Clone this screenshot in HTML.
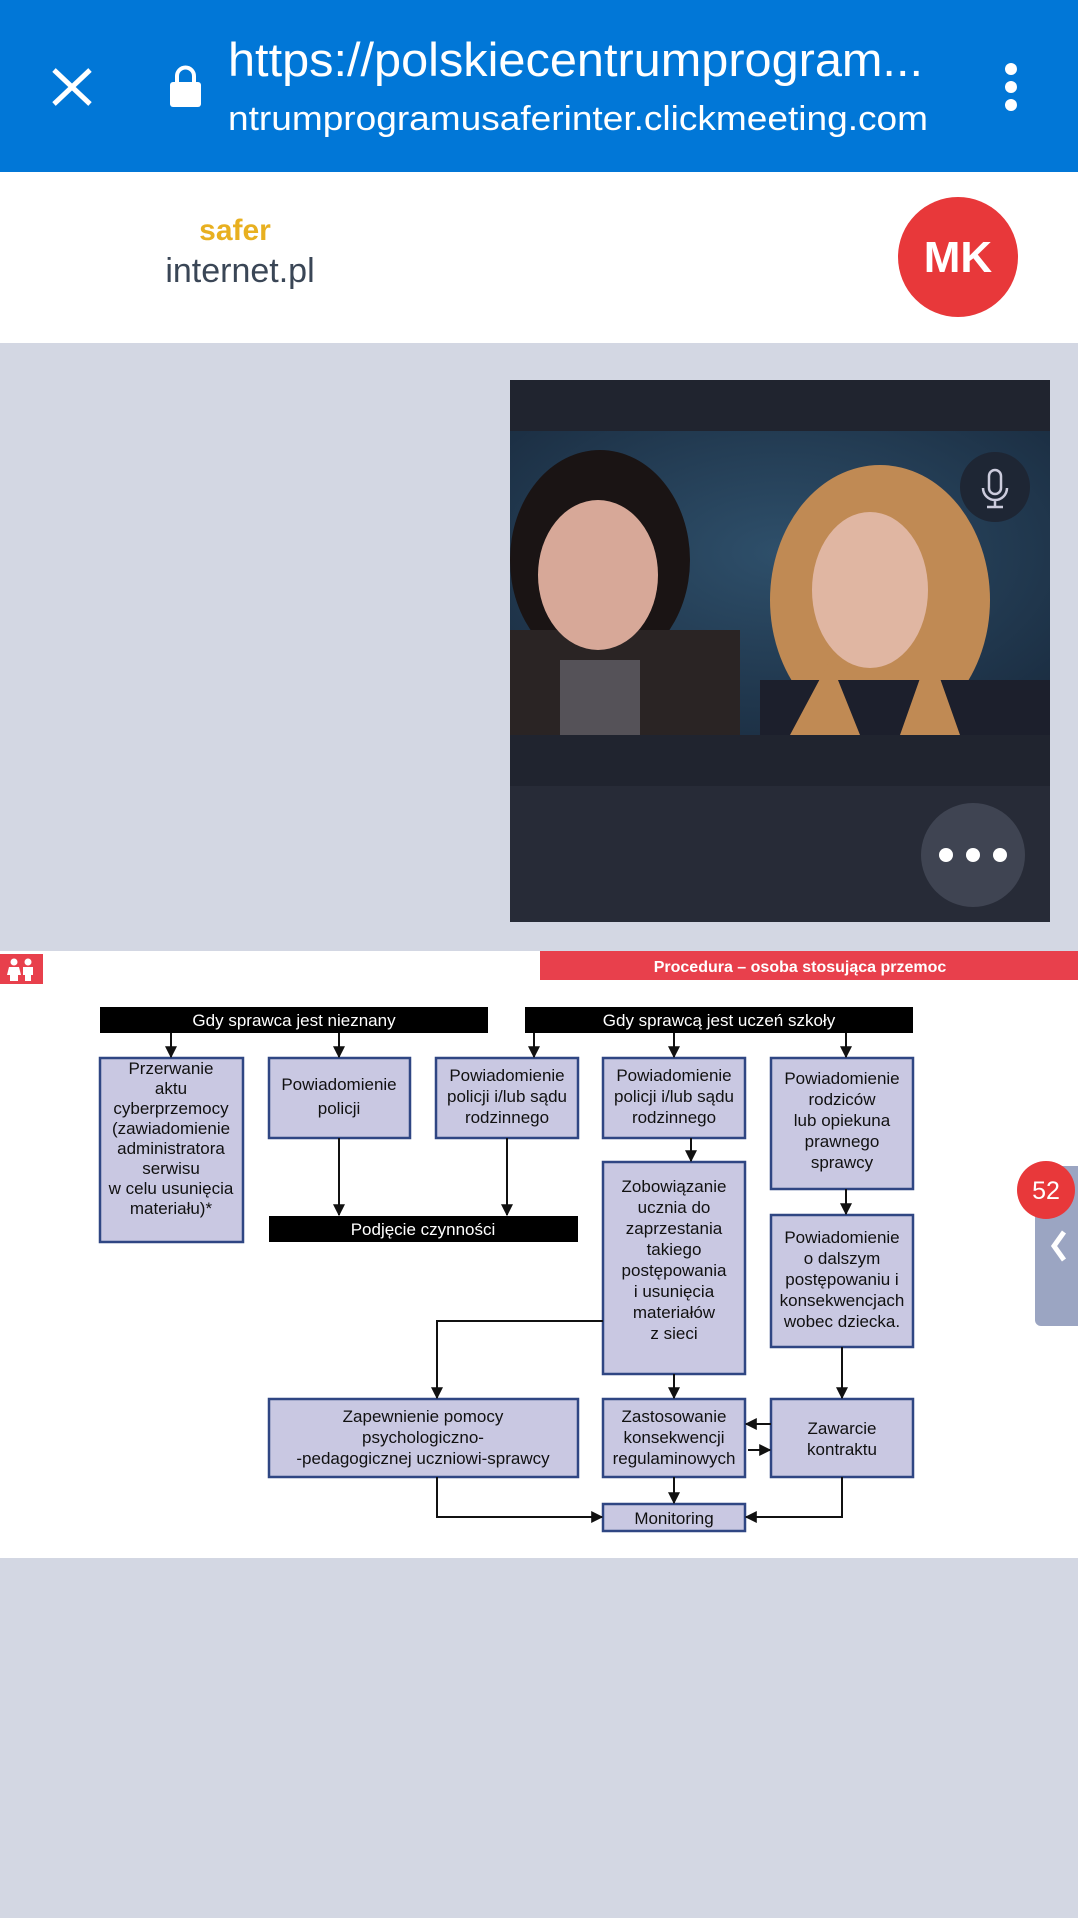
<!DOCTYPE html>
<html><head><meta charset="utf-8"><style>
html,body{margin:0;padding:0;width:1078px;height:1918px;overflow:hidden;background:#d3d7e3}
svg{display:block}
.n{font-family:"Liberation Sans Narrow","Liberation Sans",sans-serif;font-size:17px;fill:#111;text-anchor:middle}
.w{font-family:"Liberation Sans Narrow","Liberation Sans",sans-serif;font-size:17px;fill:#fff;text-anchor:middle}
</style></head><body>
<svg width="1078" height="1918" viewBox="0 0 1078 1918" xmlns="http://www.w3.org/2000/svg">
<defs>
<marker id="a" viewBox="0 0 10 10" refX="9" refY="5" markerWidth="6" markerHeight="6" orient="auto"><path d="M0,0 L10,5 L0,10 z" fill="#111"/></marker>
<radialGradient id="bg" cx="0.5" cy="0.4" r="0.7"><stop offset="0" stop-color="#2e4f6a"/><stop offset="1" stop-color="#1a2c40"/></radialGradient>
</defs>
<rect x="0" y="0" width="1078" height="172" fill="#0177d7"/>
<path d="M54,70 L90,104 M90,70 L54,104" stroke="#fff" stroke-width="5"/>
<rect x="170" y="82" width="31" height="25" rx="3" fill="#fff"/>
<path d="M177,83 v-7 a8.5,8.5 0 0 1 17,0 v7" stroke="#fff" stroke-width="4" fill="none"/>
<text x="228" y="76" font-family="Liberation Sans,sans-serif" font-size="47" fill="#fff" textLength="695" lengthAdjust="spacingAndGlyphs">https://polskiecentrumprogram...</text>
<text x="228" y="130" font-family="Liberation Sans,sans-serif" font-size="34" fill="#fff" textLength="700" lengthAdjust="spacingAndGlyphs">ntrumprogramusaferinter.clickmeeting.com</text>
<circle cx="1011" cy="69" r="6" fill="#fff"/><circle cx="1011" cy="87" r="6" fill="#fff"/><circle cx="1011" cy="105" r="6" fill="#fff"/>
<rect x="0" y="172" width="1078" height="171" fill="#fff"/>
<text x="235" y="240" font-family="Liberation Sans,sans-serif" font-weight="bold" font-size="30" fill="#e8b020" text-anchor="middle">safer</text>
<text x="240" y="282" font-family="Liberation Sans,sans-serif" font-size="34" fill="#3a4656" text-anchor="middle">internet.pl</text>
<circle cx="958" cy="257" r="60" fill="#e8383a"/>
<text x="958" y="272" font-family="Liberation Sans,sans-serif" font-weight="bold" font-size="44" fill="#fff" text-anchor="middle">MK</text>
<rect x="510" y="380" width="540" height="542" fill="#20242f"/>
<rect x="510" y="786" width="540" height="136" fill="#272b37"/>
<rect x="510" y="431" width="540" height="304" fill="url(#bg)"/>
<ellipse cx="600" cy="560" rx="90" ry="110" fill="#1a1414"/>
<rect x="510" y="630" width="230" height="105" fill="#2a2424"/>
<ellipse cx="598" cy="575" rx="60" ry="75" fill="#d7a898"/>
<rect x="560" y="660" width="80" height="75" fill="#555258"/>
<ellipse cx="880" cy="600" rx="110" ry="135" fill="#c08a54"/>
<rect x="760" y="680" width="290" height="55" fill="#1c1f2c"/>
<ellipse cx="870" cy="590" rx="58" ry="78" fill="#e0b6a2"/>
<path d="M790,735 L830,660 L860,735 z M900,735 L930,650 L960,735z" fill="#c08a54"/>
<circle cx="995" cy="487" r="35" fill="#1e2634"/>
<rect x="989" y="470" width="12" height="24" rx="6" stroke="#ccd" stroke-width="2.5" fill="none"/>
<path d="M983,488 a12,12 0 0 0 24,0 M995,500 v7 M987,507 h16" stroke="#ccd" stroke-width="2.5" fill="none"/>
<circle cx="973" cy="855" r="52" fill="#3f4452"/>
<circle cx="946" cy="855" r="7" fill="#fff"/><circle cx="973" cy="855" r="7" fill="#fff"/><circle cx="1000" cy="855" r="7" fill="#fff"/>
<rect x="0" y="951" width="1078" height="607" fill="#fff"/>
<rect x="540" y="951" width="538" height="29" fill="#e8404c"/>
<text x="800" y="972" font-family="Liberation Sans,sans-serif" font-weight="bold" font-size="16" fill="#fff" text-anchor="middle">Procedura – osoba stosująca  przemoc</text>
<rect x="0" y="954" width="43" height="30" fill="#e8404c"/>
<g fill="#fff"><circle cx="14" cy="962" r="3.5"/><circle cx="28" cy="962" r="3.5"/><path d="M9,967 h10 l2,8 h-3 v6 h-8 v-6 h-3z M23,967 h10 v8 h-2 v6 h-6 v-6 h-2z"/></g>
<g stroke="#2f4683" stroke-width="2.5" fill="#c9c8e2">
<rect x="100" y="1058" width="143" height="184"/>
<rect x="269" y="1058" width="141" height="80"/>
<rect x="436" y="1058" width="142" height="80"/>
<rect x="603" y="1058" width="142" height="80"/>
<rect x="771" y="1058" width="142" height="131"/>
<rect x="603" y="1162" width="142" height="212"/>
<rect x="771" y="1215" width="142" height="132"/>
<rect x="269" y="1399" width="309" height="78"/>
<rect x="603" y="1399" width="142" height="78"/>
<rect x="771" y="1399" width="142" height="78"/>
<rect x="603" y="1504" width="142" height="27"/>
</g>
<rect x="100" y="1007" width="388" height="26" fill="#000"/>
<rect x="525" y="1007" width="388" height="26" fill="#000"/>
<rect x="269" y="1216" width="309" height="26" fill="#000"/>
<text class="w" x="294" y="1026">Gdy sprawca jest nieznany</text>
<text class="w" x="719" y="1026">Gdy sprawcą jest uczeń szkoły</text>
<text class="w" x="423" y="1235">Podjęcie czynności</text>
<text class="n"><tspan x="171" y="1074">Przerwanie</tspan><tspan x="171" y="1094">aktu</tspan><tspan x="171" y="1114">cyberprzemocy</tspan><tspan x="171" y="1134">(zawiadomienie</tspan><tspan x="171" y="1154">administratora</tspan><tspan x="171" y="1174">serwisu</tspan><tspan x="171" y="1194">w celu usunięcia</tspan><tspan x="171" y="1214">materiału)*</tspan></text>
<text class="n"><tspan x="339" y="1090">Powiadomienie</tspan><tspan x="339" y="1114">policji</tspan></text>
<text class="n"><tspan x="507" y="1081">Powiadomienie</tspan><tspan x="507" y="1102">policji i/lub sądu</tspan><tspan x="507" y="1123">rodzinnego</tspan></text>
<text class="n"><tspan x="674" y="1081">Powiadomienie</tspan><tspan x="674" y="1102">policji i/lub sądu</tspan><tspan x="674" y="1123">rodzinnego</tspan></text>
<text class="n"><tspan x="842" y="1084">Powiadomienie</tspan><tspan x="842" y="1105">rodziców</tspan><tspan x="842" y="1126">lub opiekuna</tspan><tspan x="842" y="1147">prawnego</tspan><tspan x="842" y="1168">sprawcy</tspan></text>
<text class="n"><tspan x="674" y="1192">Zobowiązanie</tspan><tspan x="674" y="1213">ucznia do</tspan><tspan x="674" y="1234">zaprzestania</tspan><tspan x="674" y="1255">takiego</tspan><tspan x="674" y="1276">postępowania</tspan><tspan x="674" y="1297">i usunięcia</tspan><tspan x="674" y="1318">materiałów</tspan><tspan x="674" y="1339">z sieci</tspan></text>
<text class="n"><tspan x="842" y="1243">Powiadomienie</tspan><tspan x="842" y="1264">o dalszym</tspan><tspan x="842" y="1285">postępowaniu i</tspan><tspan x="842" y="1306">konsekwencjach</tspan><tspan x="842" y="1327">wobec dziecka.</tspan></text>
<text class="n"><tspan x="423" y="1422">Zapewnienie pomocy</tspan><tspan x="423" y="1443">psychologiczno-</tspan><tspan x="423" y="1464">-pedagogicznej uczniowi-sprawcy</tspan></text>
<text class="n"><tspan x="674" y="1422">Zastosowanie</tspan><tspan x="674" y="1443">konsekwencji</tspan><tspan x="674" y="1464">regulaminowych</tspan></text>
<text class="n"><tspan x="842" y="1434">Zawarcie</tspan><tspan x="842" y="1455">kontraktu</tspan></text>
<text class="n" x="674" y="1524">Monitoring</text>
<g stroke="#111" stroke-width="2" fill="none" marker-end="url(#a)">
<path d="M171,1033 V1057"/><path d="M339,1033 V1057"/><path d="M534,1033 V1057"/><path d="M674,1033 V1057"/><path d="M846,1033 V1057"/>
<path d="M339,1138 V1215"/><path d="M507,1138 V1215"/>
<path d="M691,1138 V1161"/><path d="M846,1189 V1214"/>
<path d="M603,1321 H437 V1398"/>
<path d="M674,1374 V1398"/><path d="M842,1347 V1398"/>
<path d="M771,1424 H746"/><path d="M748,1450 H770"/>
<path d="M674,1477 V1503"/>
<path d="M437,1477 V1517 H602"/><path d="M842,1477 V1517 H746"/>
</g>
<rect x="1035" y="1166" width="50" height="160" rx="6" fill="#9ba5c2"/>
<path d="M1064,1232 l-10,14 l10,14" stroke="#fff" stroke-width="5" fill="none"/>
<circle cx="1046" cy="1190" r="29" fill="#e8383a"/>
<text x="1046" y="1199" font-family="Liberation Sans,sans-serif" font-size="25" fill="#fff" text-anchor="middle">52</text>
</svg>
</body></html>
